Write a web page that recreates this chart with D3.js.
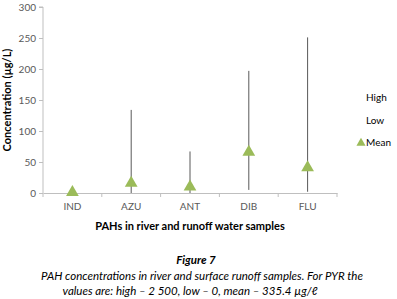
<!DOCTYPE html>
<html><head><meta charset="utf-8">
<script src="https://cdn.jsdelivr.net/npm/d3@7"></script>
<style>body{margin:0;background:#fff}svg{display:block}</style>
</head><body>
<svg id="c" width="397" height="299"></svg>
<script>
const categories = ["IND","AZU","ANT","DIB","FLU"];
const high = [3, 134, 67, 197, 251];
const low = [0, 0, 0, 5, 2];
const mean = [1, 16, 10, 66, 41];
const yTicks = [0,50,100,150,200,250,300];

const svg = d3.select("#c");
const m = {l:43, r:337, t:7, b:193};
const x = d3.scaleBand().domain(categories).range([m.l, m.r]);
const y = d3.scaleLinear().domain([0,300]).range([m.b, m.t]);
const font = "Lato, 'Open Sans', sans-serif";

// y axis
const ya = svg.append("g").attr("transform",`translate(${m.l},0)`)
  .call(d3.axisLeft(y).tickValues(yTicks).tickSize(4).tickPadding(3));
ya.select(".domain").attr("stroke","#bfbfbf").attr("d",`M-4,${m.t}H0V${m.b}`);
ya.selectAll(".tick line").attr("stroke","#bfbfbf");
ya.selectAll("text").attr("fill","#595959").style("font-family",font).style("font-size","10px");

// x axis
const xa = svg.append("g").attr("transform",`translate(0,${m.b})`)
  .call(d3.axisBottom(x).tickSize(0).tickPadding(10));
xa.select(".domain").attr("stroke","#bfbfbf");
xa.selectAll("text").attr("fill","#595959").style("font-family",font).style("font-size","10px");
const bounds = categories.map(c=>x(c)).concat([m.r]);
svg.append("g").selectAll("line").data(bounds).join("line")
  .attr("x1",d=>d).attr("x2",d=>d).attr("y1",m.b).attr("y2",m.b+4).attr("stroke","#bfbfbf");

// high-low lines
const cx = c => x(c) + x.bandwidth()/2;
svg.append("g").selectAll("line").data(categories).join("line")
  .attr("x1",cx).attr("x2",cx)
  .attr("y1",(d,i)=>y(high[i])).attr("y2",(d,i)=>y(low[i]))
  .attr("stroke","#595959").attr("stroke-width",1);

// mean triangles
const tri = d3.symbol().type(d3.symbolTriangle).size(70);
svg.append("g").selectAll("path").data(categories).join("path")
  .attr("d",tri)
  .attr("transform",(d,i)=>`translate(${cx(d)},${y(mean[i])})`)
  .attr("fill","#9bbb59");

// legend
const lg = svg.append("g").style("font-family",font).style("font-size","10px").attr("fill","#000");
lg.append("text").attr("x",366).attr("y",101).text("High");
lg.append("text").attr("x",366).attr("y",124).text("Low");
lg.append("text").attr("x",366).attr("y",146).text("Mean");
lg.append("path").attr("d",d3.symbol().type(d3.symbolTriangle).size(36)).attr("transform","translate(361,143)").attr("fill","#9bbb59");

// axis titles
svg.append("text").attr("transform","translate(11,100) rotate(-90)").attr("text-anchor","middle")
  .style("font-family",font).style("font-size","11px").style("font-weight","bold").text("Concentration (µg/L)");
svg.append("text").attr("x",190).attr("y",230).attr("text-anchor","middle")
  .style("font-family",font).style("font-size","11px").style("font-weight","bold").text("PAHs in river and runoff water samples");

// caption
const cap = svg.append("g").style("font-family","Lato, 'Open Sans', sans-serif").style("font-style","italic").style("font-size","11.5px").attr("text-anchor","middle");
cap.append("text").attr("x",196).attr("y",264).style("font-weight","bold").text("Figure 7");
cap.append("text").attr("x",202).attr("y",280).text("PAH concentrations in river and surface runoff samples. For PYR the");
cap.append("text").attr("x",190).attr("y",295).text("values are: high – 2 500, low – 0, mean – 335.4 µg/ℓ");
</script>
</body></html>
